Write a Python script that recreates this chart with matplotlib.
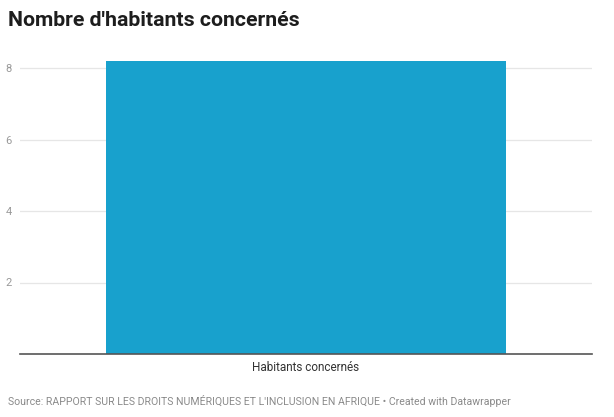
import matplotlib
matplotlib.use("Agg")
import matplotlib.pyplot as plt

categories = ["Habitants concernés"]
values = [8.2]
yticks = [2, 4, 6, 8]

plt.rcParams['font.family'] = ['Roboto', 'DejaVu Sans']

fig = plt.figure(figsize=(6.14, 4.17), dpi=100)
W, H = 614, 417
ax = fig.add_axes([20 / W, (H - 354) / H, (592 - 20) / W, (354 - 58) / H])

ax.bar(categories, values, width=0.70, color="#18a1cd", zorder=2)
ax.set_xlim(-0.5, 0.5)
ax.set_ylim(0, (354 - 58) / 35.75)
ax.set_yticks(yticks)
ax.set_yticklabels([str(t) for t in yticks], color="#999999", fontsize=8)
ax.yaxis.grid(True, color="#e6e6e6", linewidth=0.9, zorder=0)
ax.tick_params(axis='y', length=0, pad=6)
ax.tick_params(axis='x', length=0, pad=5, labelsize=8.5, labelcolor="#333333")
for s in ["top", "right", "left"]:
    ax.spines[s].set_visible(False)
ax.spines["bottom"].set_color("#555555")
ax.spines["bottom"].set_linewidth(1.2)
ax.spines["bottom"].set_zorder(3)

fig.text(8 / W, 1 - 20 / H, "Nombre d'habitants concernés", fontsize=15.3,
         fontweight="bold", color="#1d1d1d", va="center", ha="left")
fig.text(8 / W, 1 - 401 / H,
         "Source: RAPPORT SUR LES DROITS NUMÉRIQUES ET L'INCLUSION EN AFRIQUE • Created with Datawrapper",
         fontsize=7.6, color="#8a8a8a", va="center", ha="left")

fig.savefig("out.png", dpi=100)
